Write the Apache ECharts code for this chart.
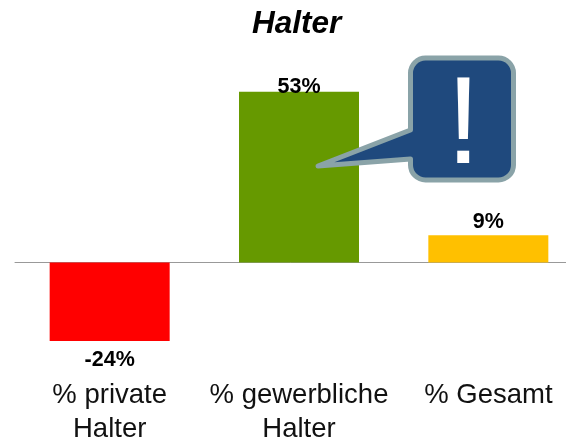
<!DOCTYPE html>
<html><head><meta charset="utf-8"><style>html,body{margin:0;padding:0;background:#fff}#c{width:566px;height:442px}</style>
<script src="https://cdn.jsdelivr.net/npm/echarts@6/dist/echarts.min.js"></script></head>
<body><div id="c"></div><script>
const categories = ['% private\nHalter', '% gewerbliche\nHalter', '% Gesamt'];
const values = [-24.4, 53, 8.5];
const colors = ['#FF0000', '#669900', '#FFC000'];
echarts.graphic.registerShape('callout', echarts.graphic.extendShape({
  buildPath(ctx) {
    ctx.moveTo(425.5, 58);
    ctx.lineTo(498.5, 58);
    ctx.arcTo(513.5, 58, 513.5, 73, 15);
    ctx.lineTo(513.5, 165);
    ctx.arcTo(513.5, 180, 498.5, 180, 15);
    ctx.lineTo(425.5, 180);
    ctx.arcTo(410.5, 180, 410.5, 165, 15);
    ctx.lineTo(410.5, 159);
    ctx.lineTo(318, 166);
    ctx.lineTo(410.5, 130);
    ctx.lineTo(410.5, 73);
    ctx.arcTo(410.5, 58, 425.5, 58, 15);
    ctx.closePath();
  }
}));
const chart = echarts.init(document.getElementById('c'), null, {renderer: 'canvas'});
const font = 'Liberation Sans, Arial, sans-serif';
chart.setOption({
  animation: false,
  title: {text: 'Halter', left: 247, top: 3,
    textStyle: {fontFamily: font, fontSize: 31.5, fontWeight: 'bold', fontStyle: 'italic', color: '#000'}},
  grid: {left: 15, top: 69.3, width: 568, height: 302.7, outerBoundsMode: 'none', containLabel: false},
  xAxis: [
    {type: 'category', data: categories, position: 'bottom',
     axisLine: {onZero: false, show: false}, axisTick: {show: false},
     axisLabel: {fontFamily: font, fontSize: 27.5, color: '#111', lineHeight: 34, margin: 6, interval: 0, hideOverlap: false}},
    {type: 'category', data: categories,
     axisLine: {onZero: true, lineStyle: {color: '#999', width: 1}}, axisTick: {show: false}, axisLabel: {show: false}}
  ],
  yAxis: {type: 'value', min: -34, max: 60, show: false, splitLine: {show: false}},
  series: [{
    type: 'bar', barWidth: 120, xAxisIndex: 0,
    data: values.map((v, i) => ({value: v, itemStyle: {color: colors[i]},
      label: {show: true, position: v < 0 ? 'bottom' : 'top', distance: v < 0 ? 8 : (v > 50 ? -6 : 2),
        formatter: () => Math.round(v) + '%', fontFamily: font, fontSize: 21.5, fontWeight: 'bold', color: '#000'}}))
  }],
  graphic: [
    {type: 'callout', z: 50, shape: {},
     style: {fill: '#1F497D', stroke: '#8AA3A8', lineWidth: 5, lineJoin: 'round'}},
    {type: 'text', z: 51, left: 446, top: 66,
     style: {text: '!', fontFamily: font, fontSize: 125, fill: '#fff'}}
  ]
});
</script></body></html>
